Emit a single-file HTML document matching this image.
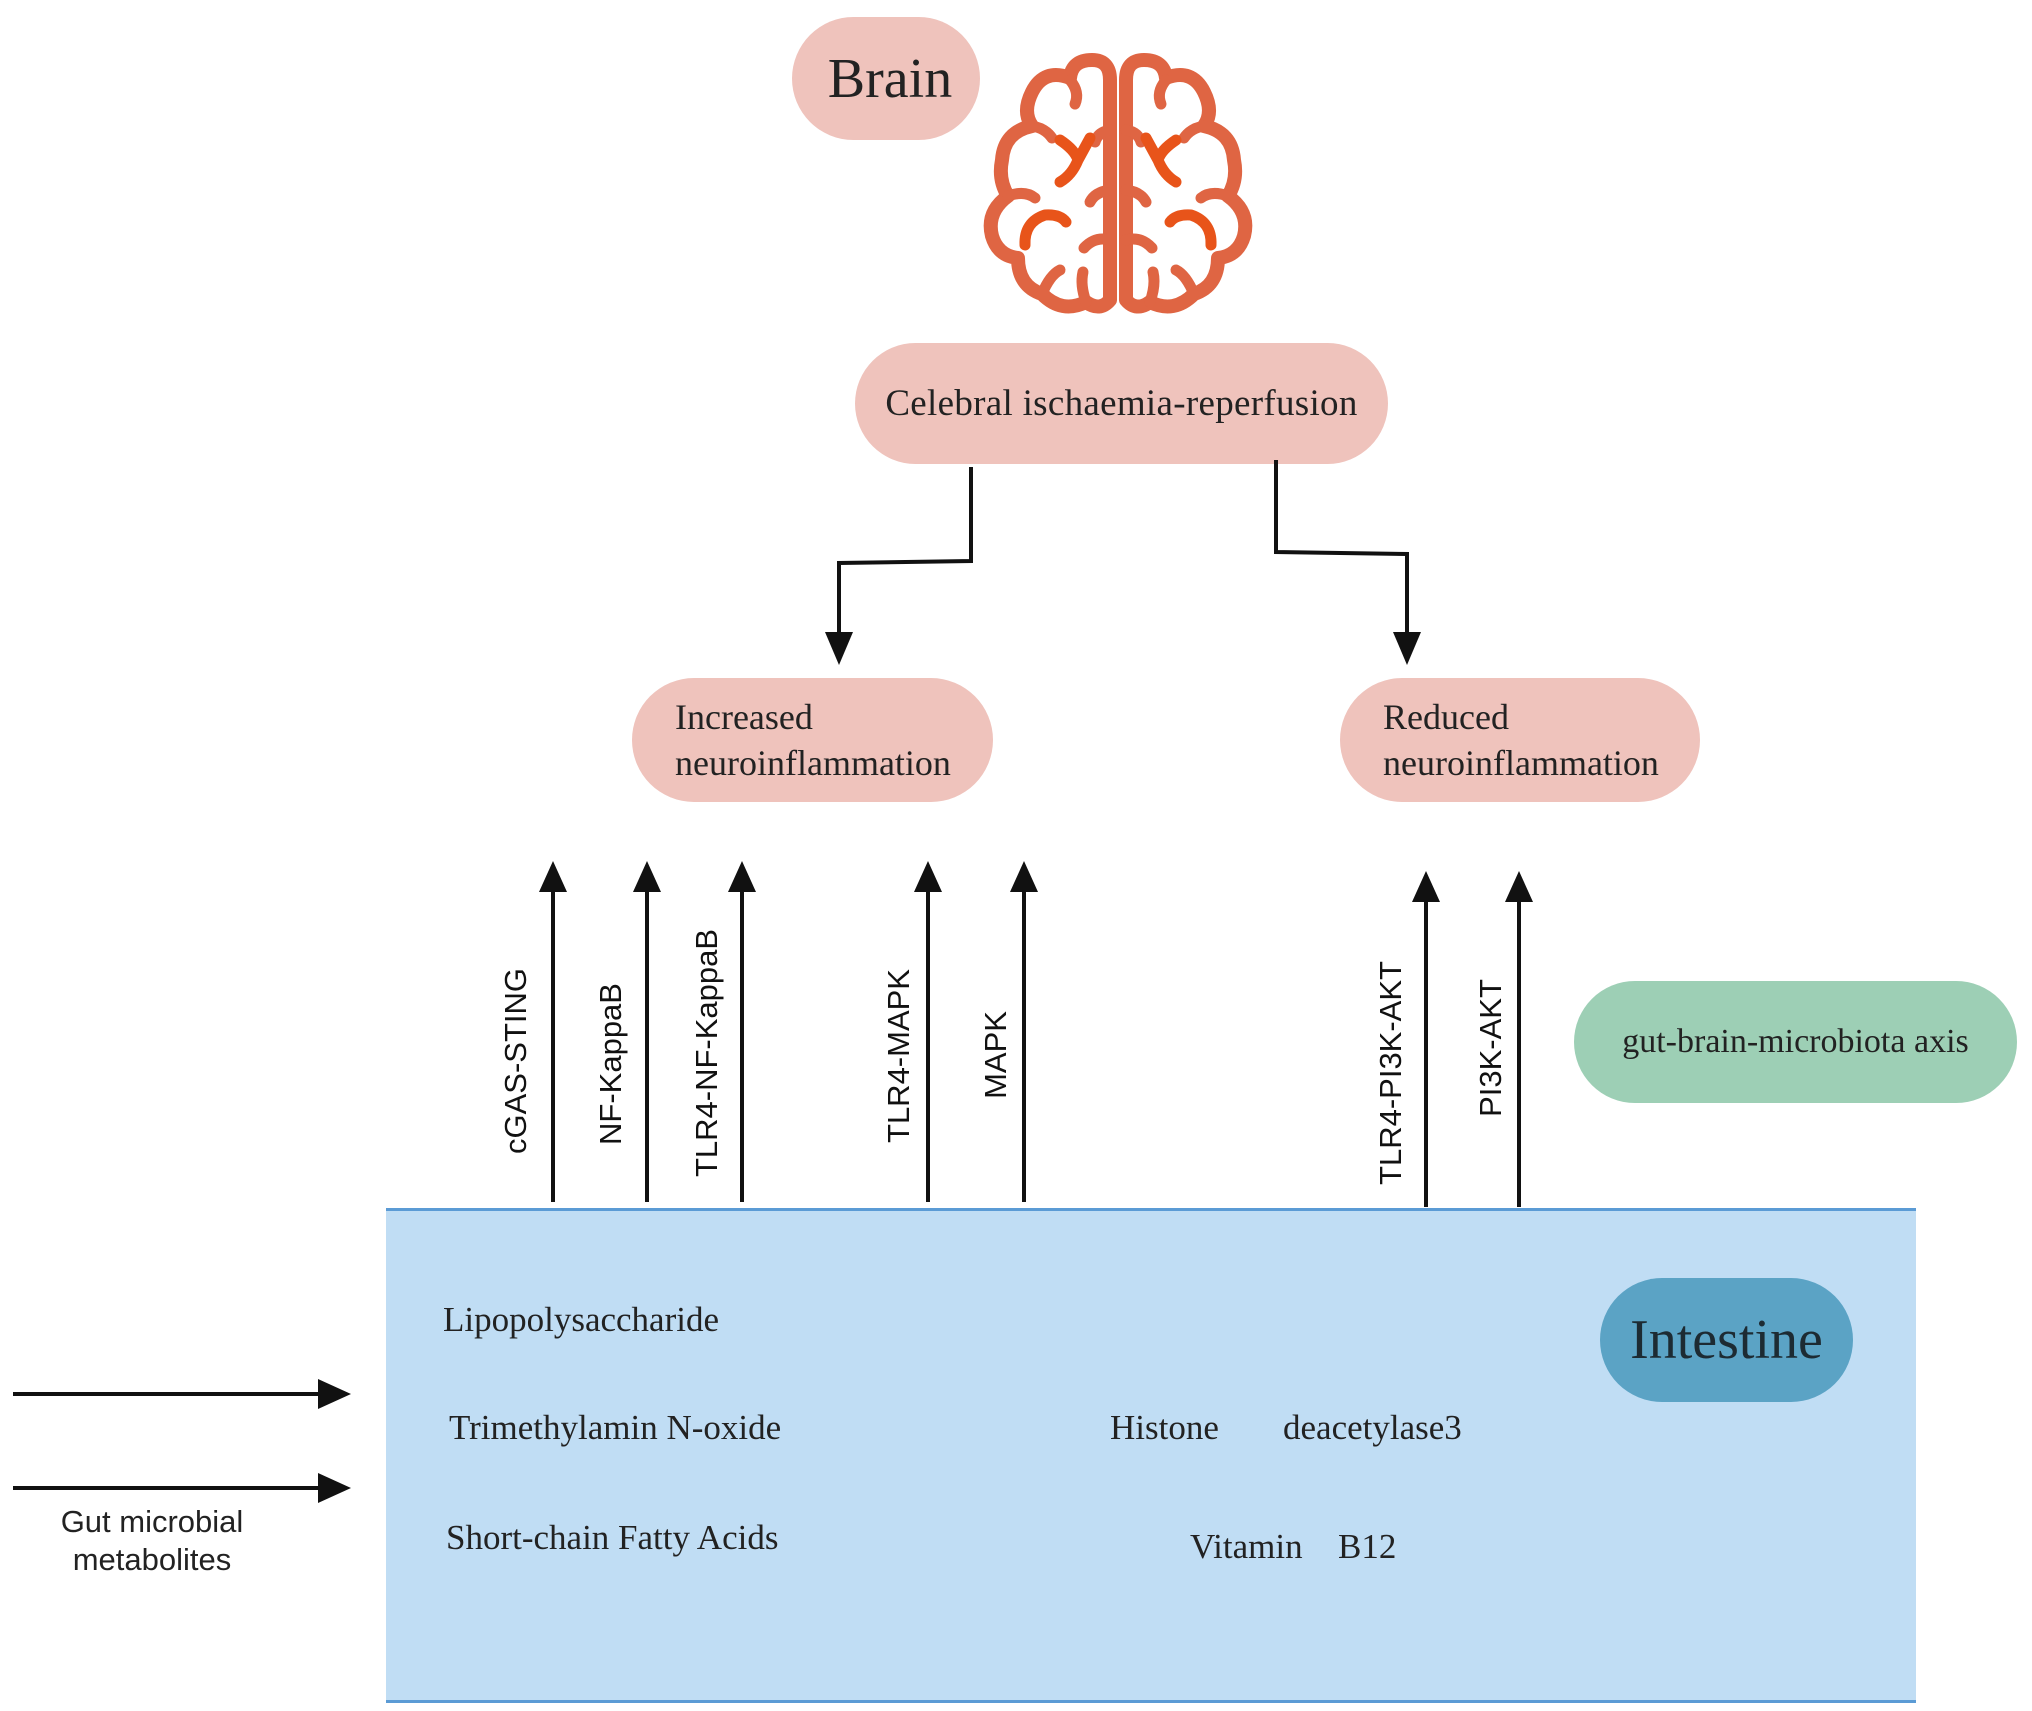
<!DOCTYPE html>
<html><head><meta charset="utf-8"><style>
body{margin:0;width:2032px;height:1711px;background:#fff;position:relative;overflow:hidden;font-family:"Liberation Serif",serif;color:#222}
.pill{position:absolute;border-radius:70px;display:flex;align-items:center;justify-content:center;box-sizing:border-box}
.t{position:absolute;white-space:nowrap}
.r{position:absolute;white-space:nowrap;font-family:"Liberation Sans",sans-serif;font-size:31px;color:#111;transform:translate(-50%,-50%) rotate(-90deg)}
</style></head><body>
<div class="pill" style="left:792px;top:17px;width:188px;height:123px;background:#efc3bc;font-size:56px;padding-left:8px">Brain</div>
<div class="pill" style="left:855px;top:343px;width:533px;height:121px;background:#efc3bc;font-size:37px;letter-spacing:0.3px">Celebral ischaemia-reperfusion</div>
<div class="pill" style="left:632px;top:678px;width:361px;height:124px;background:#efc3bc;font-size:36px;justify-content:flex-start;padding-left:43px;line-height:46px">Increased<br>neuroinflammation</div>
<div class="pill" style="left:1340px;top:678px;width:360px;height:124px;background:#efc3bc;font-size:36px;justify-content:flex-start;padding-left:43px;line-height:46px">Reduced<br>neuroinflammation</div>
<div class="pill" style="left:1574px;top:981px;width:443px;height:122px;background:#9dcfb5;font-size:34px">gut-brain-microbiota axis</div>
<div style="position:absolute;left:386px;top:1208px;width:1530px;height:489px;background:#c0ddf4;border-top:3px solid #5b9bd5;border-bottom:3px solid #5b9bd5"></div>
<div class="pill" style="left:1600px;top:1278px;width:253px;height:124px;background:#5ba3c5;font-size:56px;color:#1d2b33">Intestine</div>
<div class="t" style="left:443px;top:1300px;font-size:35px">Lipopolysaccharide</div>
<div class="t" style="left:449px;top:1408px;font-size:35px">Trimethylamin N-oxide</div>
<div class="t" style="left:446px;top:1518px;font-size:35px">Short-chain Fatty Acids</div>
<div class="t" style="left:1110px;top:1408px;font-size:35px">Histone</div>
<div class="t" style="left:1283px;top:1408px;font-size:35px">deacetylase3</div>
<div class="t" style="left:1190px;top:1527px;font-size:35px">Vitamin</div>
<div class="t" style="left:1338px;top:1527px;font-size:35px">B12</div>
<div class="t" style="left:152px;top:1541px;transform:translate(-50%,-50%);font-family:'Liberation Sans',sans-serif;font-size:31px;text-align:center;line-height:38px">Gut microbial<br>metabolites</div>
<div class="r" style="left:516px;top:1061px">cGAS-STING</div>
<div class="r" style="left:611px;top:1064px">NF-KappaB</div>
<div class="r" style="left:707px;top:1053px">TLR4-NF-KappaB</div>
<div class="r" style="left:899px;top:1056px">TLR4-MAPK</div>
<div class="r" style="left:996px;top:1055px">MAPK</div>
<div class="r" style="left:1391px;top:1073px">TLR4-PI3K-AKT</div>
<div class="r" style="left:1491px;top:1048px">PI3K-AKT</div>
<svg width="2032" height="1711" style="position:absolute;left:0;top:0">
<g stroke="#111" stroke-width="4" fill="none">
<polyline points="971,467 971,561 839,563 839,638"/>
<polyline points="1276,460 1276,552 1407,554 1407,638"/>
<line x1="553" y1="1202" x2="553" y2="888"/><line x1="647" y1="1202" x2="647" y2="888"/><line x1="742" y1="1202" x2="742" y2="888"/><line x1="928" y1="1202" x2="928" y2="888"/><line x1="1024" y1="1202" x2="1024" y2="888"/><line x1="1426" y1="1207" x2="1426" y2="898"/><line x1="1519" y1="1207" x2="1519" y2="898"/>
<line x1="13" y1="1394" x2="323" y2="1394"/><line x1="13" y1="1488" x2="323" y2="1488"/>
</g>
<g fill="#111">
<polygon points="825,632 853,632 839,665"/><polygon points="1393,632 1421,632 1407,665"/>
<polygon points="539,892 567,892 553,861"/><polygon points="633,892 661,892 647,861"/><polygon points="728,892 756,892 742,861"/><polygon points="914,892 942,892 928,861"/><polygon points="1010,892 1038,892 1024,861"/><polygon points="1412,902 1440,902 1426,871"/><polygon points="1505,902 1533,902 1519,871"/>
<polygon points="318,1379 351,1394 318,1409"/><polygon points="318,1473 351,1488 318,1503"/>
</g>
<g id="hemi" stroke-linecap="round" stroke-linejoin="round">
<path d="M1110,80 Q1110,60 1092,60 Q1072,60 1070,78 Q1044,68 1032,92 Q1022,112 1032,126 Q1004,132 1002,160 Q998,180 1008,196 Q986,212 992,236 Q998,256 1018,258 Q1018,286 1042,294 Q1062,314 1086,302 Q1100,312 1110,300 Z" fill="#fff" stroke="#df6543" stroke-width="14"/>
<g fill="none" stroke="#df6543" stroke-width="11">
<path d="M1070,80 Q1080,92 1075,104"/><path d="M1032,126 Q1045,128 1052,138"/><path d="M1008,196 Q1025,190 1035,198"/><path d="M1110,190 Q1095,192 1090,202"/><path d="M1110,240 Q1095,236 1084,248"/><path d="M1086,302 Q1080,285 1083,272"/><path d="M1042,294 Q1050,275 1060,270"/><path d="M1110,130 Q1098,132 1095,142"/>
</g>
<g fill="none" stroke="#e8541a" stroke-width="11">
<path d="M1060,140 Q1075,150 1078,160 L1090,138 M1078,160 Q1072,175 1060,182"/>
<path d="M1025,245 Q1024,222 1045,215 Q1060,214 1066,222"/>
</g>
</g>
<use href="#hemi" transform="translate(2236,0) scale(-1,1)"/>
</svg>
</body></html>
